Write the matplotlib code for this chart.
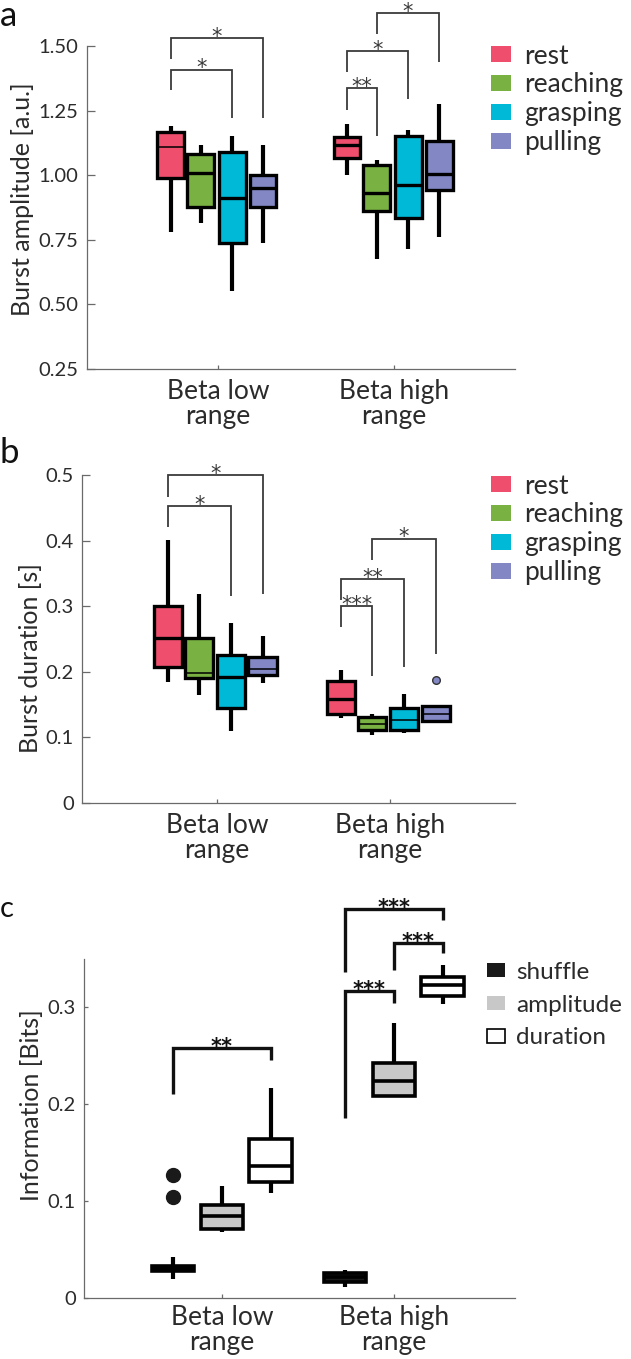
import matplotlib
matplotlib.use('Agg')
import matplotlib.pyplot as plt
from matplotlib.patches import Patch
import numpy as np

plt.rcParams['font.family'] = ['Lato', 'DejaVu Sans']

groups = ['Beta low\nrange', 'Beta high\nrange']
conditions = ['rest', 'reaching', 'grasping', 'pulling']
cond_colors = ['#EF4F6D', '#79B143', '#00B9D6', '#8388C5']
info_kinds = ['shuffle', 'amplitude', 'duration']
info_colors = ['#1A1A1A', '#C8C8C8', '#FFFFFF']

# panel a: burst amplitude [a.u.], rows = beta low / beta high, cols = conditions
amp_whishi = [[1.192, 1.118, 1.153, 1.115], [1.199, 1.057, 1.176, 1.277]]
amp_q3 = [[1.167, 1.082, 1.089, 0.999], [1.148, 1.040, 1.153, 1.133]]
amp_med = [[1.109, 1.008, 0.912, 0.949], [1.115, 0.933, 0.961, 1.004]]
amp_q1 = [[0.988, 0.876, 0.736, 0.878], [1.065, 0.860, 0.833, 0.943]]
amp_whislo = [[0.779, 0.816, 0.552, 0.738], [1.000, 0.676, 0.716, 0.762]]
amp_fliers = {}

# panel b: burst duration [s]
dur_whishi = [[0.401, 0.319, 0.274, 0.255], [0.203, 0.136, 0.166, 0.148]]
dur_q3 = [[0.300, 0.252, 0.225, 0.222], [0.186, 0.131, 0.145, 0.148]]
dur_med = [[0.252, 0.198, 0.192, 0.205], [0.158, 0.121, 0.126, 0.135]]
dur_q1 = [[0.207, 0.191, 0.145, 0.195], [0.136, 0.111, 0.112, 0.125]]
dur_whislo = [[0.185, 0.164, 0.110, 0.183], [0.130, 0.103, 0.106, 0.124]]
dur_fliers = {(1, 3): [0.187]}

# panel c: information [bits], cols = shuffle / amplitude / duration
info_whishi = [[0.0426, 0.115, 0.216], [0.029, 0.283, 0.343]]
info_q3 = [[0.033, 0.096, 0.1636], [0.026, 0.242, 0.331]]
info_med = [[0.0306, 0.0845, 0.136], [0.022, 0.224, 0.323]]
info_q1 = [[0.0278, 0.0708, 0.120], [0.016, 0.208, 0.311]]
info_whislo = [[0.0196, 0.0684, 0.108], [0.0116, 0.207, 0.303]]
info_fliers = {(0, 0): [0.127, 0.104]}

# significance brackets: (group, box i, box j, left leg start, top, right leg end, label)
sig_amp = [(0, 0, 2, 1.328, 1.409, 1.221, '*'),
           (0, 0, 3, 1.448, 1.530, 1.221, '*'),
           (1, 0, 1, 1.254, 1.336, 1.153, '**'),
           (1, 0, 2, 1.399, 1.481, 1.293, '*'),
           (1, 1, 3, 1.545, 1.627, 1.439, '*')]
sig_dur = [(0, 0, 2, 0.421, 0.452, 0.315, '*'),
           (0, 0, 3, 0.467, 0.500, 0.319, '*'),
           (1, 0, 1, 0.269, 0.300, 0.194, '***'),
           (1, 0, 2, 0.309, 0.341, 0.208, '**'),
           (1, 1, 3, 0.371, 0.403, 0.227, '*')]
sig_info = [(0, 0, 2, 0.210, 0.258, 0.245, '**'),
            (1, 0, 1, 0.186, 0.316, 0.304, '***'),
            (1, 1, 2, 0.338, 0.366, 0.356, '***'),
            (1, 0, 2, 0.336, 0.401, 0.390, '***')]


def make_stats(whislo, q1, med, q3, whishi, fliers):
    stats = []
    for g in range(len(med)):
        for i in range(len(med[g])):
            stats.append(dict(whislo=whislo[g][i], q1=q1[g][i], med=med[g][i],
                              q3=q3[g][i], whishi=whishi[g][i],
                              fliers=fliers.get((g, i), [])))
    return stats


def style_axis(ax, xlim, ylim, yticks, ylabels, ylab, ylab_pos, ticklen):
    ax.set_xlim(*xlim)
    ax.set_ylim(*ylim)
    for s in ['top', 'right']:
        ax.spines[s].set_visible(False)
    for s in ['left', 'bottom']:
        ax.spines[s].set_color('#6a6a6a')
        ax.spines[s].set_linewidth(0.9)
    ax.set_xticks([1, 2])
    ax.set_xticklabels(groups, fontsize=19, color='#2b2b2b', linespacing=1.0)
    ax.set_yticks(yticks)
    ax.set_yticklabels(ylabels, fontsize=14.5, color='#2b2b2b')
    ax.tick_params(axis='y', direction='in', length=ticklen, width=0.9, color='#6a6a6a', pad=6)
    ax.tick_params(axis='x', direction='in', length=3, width=0.9, color='#6a6a6a', pad=7)
    ax.set_ylabel(ylab, fontsize=18, color='#2b2b2b')
    ax.yaxis.set_label_coords(*ylab_pos)
    ax.set_facecolor('none')


def draw_boxes(ax, stats, offsets, width, colors, box_lw, whis_lw, thin_meds=()):
    n = len(offsets)
    pos = [g + 1 + off for g in range(2) for off in offsets]
    bp = ax.bxp(stats, positions=pos, widths=width, patch_artist=True,
                showcaps=False, manage_ticks=False,
                boxprops=dict(edgecolor='black', linewidth=box_lw, joinstyle='miter'),
                whiskerprops=dict(color='black', linewidth=whis_lw, solid_capstyle='butt'),
                medianprops=dict(color='black', linewidth=box_lw, solid_capstyle='butt'))
    for k, patch in enumerate(bp['boxes']):
        patch.set_facecolor(colors[k % n])
        patch.set_zorder(3)
    for k, m in enumerate(bp['medians']):
        m.set_zorder(4)
        if k in thin_meds:
            m.set_linewidth(1.1)
    return bp


def draw_sig(ax, sigs, offsets, color, lw, fs, weight):
    for g, i, j, y1, ytop, y2, lab in sigs:
        x1 = g + 1 + offsets[i]
        x2 = g + 1 + offsets[j]
        ax.plot([x1, x1, x2, x2], [y1, ytop, ytop, y2], color=color, lw=lw,
                clip_on=False, solid_joinstyle='miter', solid_capstyle='butt')
        ax.annotate(lab, ((x1 + x2) / 2, ytop), xytext=(0, -3.5), textcoords='offset points',
                    ha='center', va='baseline', fontsize=fs, fontweight=weight,
                    family='DejaVu Sans', color=color, annotation_clip=False)


fig = plt.figure(figsize=(6.31, 13.59), dpi=100)

# ---- panel a
off4a = [-0.267, -0.097, 0.080, 0.256]
ax_a = fig.add_axes([87 / 631, 1 - 369 / 1359, 428 / 631, 323 / 1359])
draw_boxes(ax_a, make_stats(amp_whislo, amp_q1, amp_med, amp_q3, amp_whishi, amp_fliers),
           off4a, 0.153, cond_colors, 2.4, 3.0, thin_meds=(0,))
draw_sig(ax_a, sig_amp, off4a, '#3a3a3a', 1.3, 15, 'normal')
style_axis(ax_a, (0.256, 2.6875), (0.25, 1.5), [0.25, 0.5, 0.75, 1.0, 1.25, 1.5],
           ['0.25', '0.50', '0.75', '1.00', '1.25', '1.50'],
           'Burst amplitude [a.u.]', (-0.124, 0.526), 6)

# ---- panel b
off4b = [-0.283, -0.104, 0.081, 0.263]
ax_b = fig.add_axes([82 / 631, 1 - 803 / 1359, 433 / 631, 328 / 1359])
bp_b = draw_boxes(ax_b, make_stats(dur_whislo, dur_q1, dur_med, dur_q3, dur_whishi, dur_fliers),
                  off4b, 0.162, cond_colors, 2.4, 3.0, thin_meds=(1, 3, 5, 6, 7))
for fl in bp_b['fliers']:
    fl.set(marker='o', markerfacecolor=cond_colors[3], markeredgecolor='#333333',
           markersize=5.5, markeredgewidth=1.0)
draw_sig(ax_b, sig_dur, off4b, '#3a3a3a', 1.3, 15, 'normal')
style_axis(ax_b, (0.22, 2.722), (0, 0.5), [0, 0.1, 0.2, 0.3, 0.4, 0.5],
           ['0', '0.1', '0.2', '0.3', '0.4', '0.5'],
           'Burst duration [s]', (-0.092, 0.442), 6)

# ---- panel c
off3 = [-0.285, 0.0, 0.282]
ax_c = fig.add_axes([84 / 631, 1 - 1298 / 1359, 431 / 631, 339.5 / 1359])
bp_c = draw_boxes(ax_c, make_stats(info_whislo, info_q1, info_med, info_q3, info_whishi, info_fliers),
                  off3, 0.245, info_colors, 2.6, 3.0)
for fl in bp_c['fliers']:
    fl.set(marker='o', markerfacecolor='#1A1A1A', markeredgecolor='#1A1A1A', markersize=10)
draw_sig(ax_c, sig_info, off3, '#111111', 2.4, 15, 'bold')
style_axis(ax_c, (0.198, 2.703), (0, 0.35), [0, 0.1, 0.2, 0.3],
           ['0', '0.1', '0.2', '0.3'],
           'Information [Bits]', (-0.095, 0.568), 3)
ax_c.tick_params(axis='x', pad=5)

# ---- legends
leg_kw = dict(loc='upper left', frameon=False, borderpad=0, borderaxespad=0,
              handlelength=0.75, handleheight=0.52, handletextpad=0.5,
              labelspacing=0.15, fontsize=19, bbox_transform=fig.transFigure,
              labelcolor='#2b2b2b')
for ax, y0 in [(ax_a, 1 - 43.5 / 1359), (ax_b, 1 - 473.5 / 1359)]:
    handles = [Patch(facecolor=c, edgecolor='none') for c in cond_colors]
    ax.legend(handles, conditions, bbox_to_anchor=(491 / 631, y0), **leg_kw)
handles_c = [Patch(facecolor=c, edgecolor='none' if c != '#FFFFFF' else 'black', linewidth=1.2)
             for c in info_colors]
ax_c.legend(handles_c, info_kinds, bbox_to_anchor=(487 / 631, 1 - 962 / 1359),
            **{**leg_kw, 'labelspacing': 0.48, 'fontsize': 17.5, 'handletextpad': 0.45})

# ---- panel letters
fig.text(0.0, 1 - 26 / 1359, 'a', fontsize=25, va='baseline', color='#111111')
fig.text(0.0, 1 - 463 / 1359, 'b', fontsize=25, va='baseline', color='#111111')
fig.text(0.0, 1 - 917 / 1359, 'c', fontsize=21, va='baseline', color='#111111')

fig.savefig('out.png', dpi=100)
